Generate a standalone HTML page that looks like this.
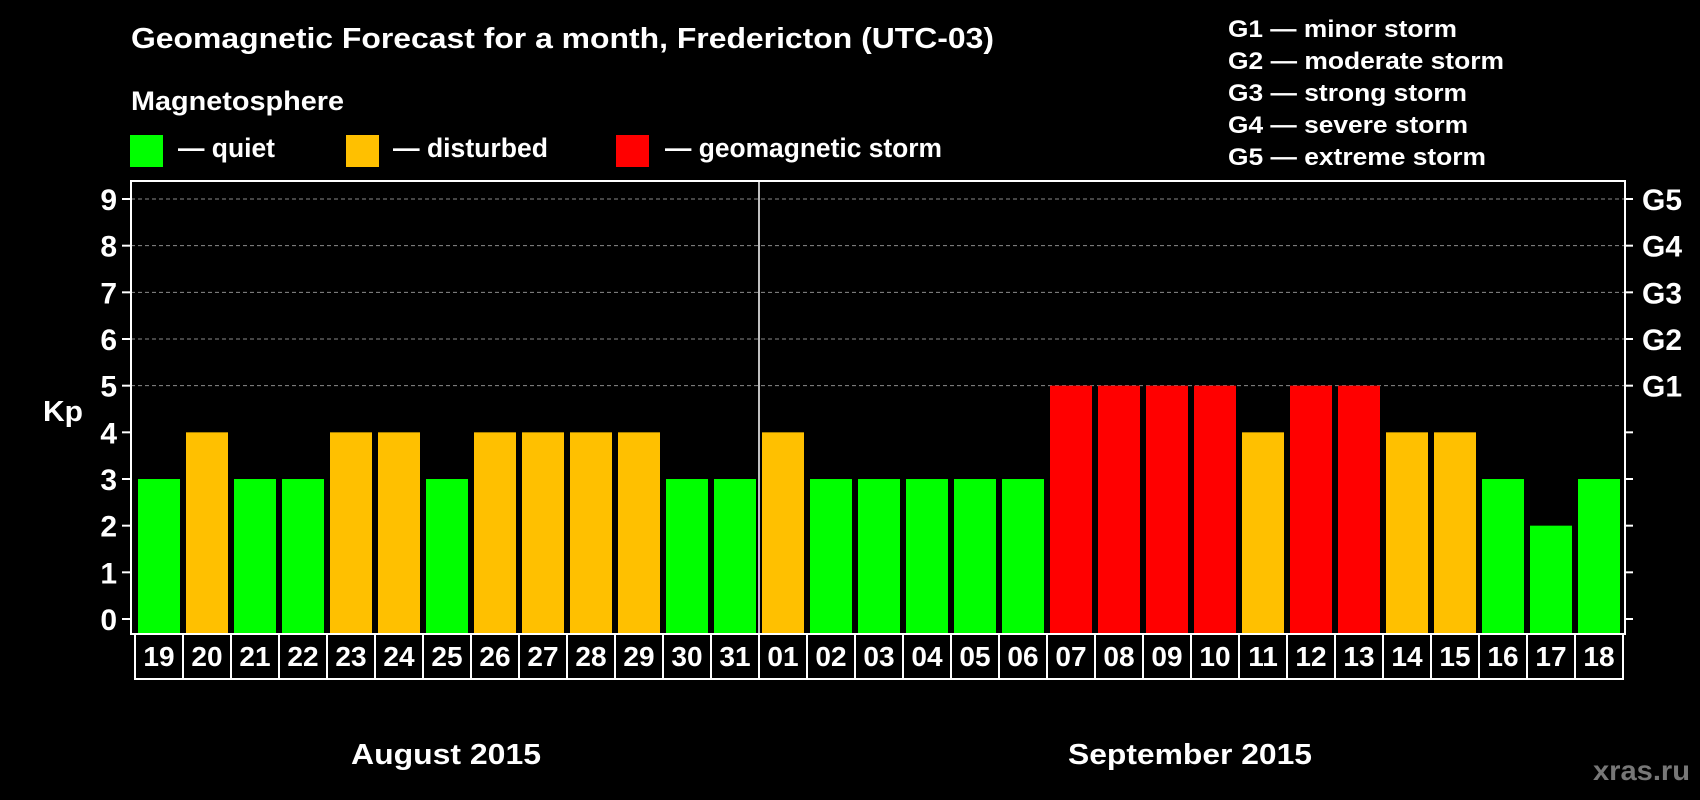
<!DOCTYPE html>
<html><head><meta charset="utf-8"><style>
html,body{margin:0;padding:0;background:#000;}
svg{display:block;font-family:"Liberation Sans",Arial,sans-serif;font-weight:bold;}
</style></head><body>
<svg id="chart" width="1700" height="800" viewBox="0 0 1700 800" xmlns="http://www.w3.org/2000/svg">
<rect width="1700" height="800" fill="#000"/>
<text x="131" y="48" fill="#fff" font-size="29" textLength="863" lengthAdjust="spacingAndGlyphs">Geomagnetic Forecast for a month, Fredericton (UTC-03)</text>
<text x="131" y="110" fill="#fff" font-size="27" textLength="213" lengthAdjust="spacingAndGlyphs">Magnetosphere</text>
<g>
<rect x="130" y="135" width="33" height="32" fill="#00ff00"/>
<text x="178" y="157" fill="#fff" font-size="27" textLength="97" lengthAdjust="spacingAndGlyphs">— quiet</text></g>
<g>
<rect x="346" y="135" width="33" height="32" fill="#ffc000"/>
<text x="393" y="157" fill="#fff" font-size="27" textLength="155" lengthAdjust="spacingAndGlyphs">— disturbed</text></g>
<g>
<rect x="616" y="135" width="33" height="32" fill="#ff0000"/>
<text x="665" y="157" fill="#fff" font-size="27" textLength="277" lengthAdjust="spacingAndGlyphs">— geomagnetic storm</text></g>
<g fill="#fff" font-size="24">
<text x="1228" y="37" textLength="229" lengthAdjust="spacingAndGlyphs">G1 — minor storm</text>
<text x="1228" y="69" textLength="276" lengthAdjust="spacingAndGlyphs">G2 — moderate storm</text>
<text x="1228" y="101" textLength="239" lengthAdjust="spacingAndGlyphs">G3 — strong storm</text>
<text x="1228" y="133" textLength="240" lengthAdjust="spacingAndGlyphs">G4 — severe storm</text>
<text x="1228" y="165" textLength="258" lengthAdjust="spacingAndGlyphs">G5 — extreme storm</text>
</g>
<g id="grid"></g>
<g id="bars"></g>
<g id="axes"></g>
<text x="43" y="421" fill="#fff" font-size="29" textLength="40" lengthAdjust="spacingAndGlyphs">Kp</text>
<text x="351" y="764" fill="#fff" font-size="29" textLength="190" lengthAdjust="spacingAndGlyphs">August 2015</text>
<text x="1068" y="764" fill="#fff" font-size="29" textLength="244" lengthAdjust="spacingAndGlyphs">September 2015</text>
<text x="1593" y="780" fill="#777" font-size="28" textLength="97" lengthAdjust="spacingAndGlyphs">xras.ru</text>
</svg>
<script>
const days = ["19","20","21","22","23","24","25","26","27","28","29","30","31","01","02","03","04","05","06","07","08","09","10","11","12","13","14","15","16","17","18"];
const kpValues = [3,4,3,3,4,4,3,4,4,4,4,3,3,4,3,3,3,3,3,5,5,5,5,4,5,5,4,4,3,2,3];
const yTicks = [0,1,2,3,4,5,6,7,8,9];
const gLabels = ["G1","G2","G3","G4","G5"];
const gLevels = [5,6,7,8,9];

const NS = "http://www.w3.org/2000/svg";
const plotL = 131, plotR = 1625, plotT = 181, plotB = 634;
const slot0 = 135, slotW = (plotR - 2 - slot0) / days.length;
const y0 = 619, y9 = 199;
function yScale(v){ return y0 + (y9 - y0) * v / 9; }
function xSlot(i){ return slot0 + i * slotW; }
function mk(tag, attrs, parent){ const e = document.createElementNS(NS, tag); for (const k in attrs) e.setAttribute(k, attrs[k]); parent.appendChild(e); return e; }
function color(v){ return v >= 5 ? "#ff0000" : (v >= 4 ? "#ffc000" : "#00ff00"); }

const grid = document.getElementById("grid");
gLevels.forEach(v => {
  const l = mk("line", {x1: plotL, x2: plotR, y1: yScale(v), y2: yScale(v), stroke: "#8a8a8a", "stroke-width": 1, "stroke-dasharray": "4,3"}, grid);
  
  
});

const bars = document.getElementById("bars");
kpValues.forEach((v, i) => {
  const r = mk("rect", {x: xSlot(i) + 3, y: yScale(v), width: slotW - 6, height: plotB - 1 - yScale(v), fill: color(v)}, bars);
  
  
});

const axes = document.getElementById("axes");
const frame = mk("rect", {x: plotL, y: plotT, width: plotR - plotL, height: plotB - plotT, fill: "none", stroke: "#fff", "stroke-width": 2}, axes);


const sep = mk("line", {x1: xSlot(13), x2: xSlot(13), y1: plotT, y2: plotB, stroke: "#fff", "stroke-width": 1.5}, axes);



yTicks.forEach(v => {
  const y = yScale(v);
  mk("line", {x1: 122, x2: plotL, y1: y, y2: y, stroke: "#fff", "stroke-width": 2}, axes);
  mk("line", {x1: plotR, x2: plotR + 8, y1: y, y2: y, stroke: "#fff", "stroke-width": 2}, axes);
  const t = mk("text", {x: 117, y: y + 11, fill: "#fff", "font-size": 30, "text-anchor": "end"}, axes);
  t.textContent = v;
  
  
});
gLabels.forEach((g, i) => {
  const t = mk("text", {x: 1642, y: yScale(gLevels[i]) + 11, fill: "#fff", "font-size": 30}, axes);
  t.textContent = g;
  
  
});

const dateBox = mk("rect", {x: slot0, y: plotB, width: slotW * days.length, height: 45, fill: "none", stroke: "#fff", "stroke-width": 2}, axes);


days.forEach((d, i) => {
  if (i > 0) mk("line", {x1: xSlot(i), x2: xSlot(i), y1: plotB, y2: plotB + 45, stroke: "#fff", "stroke-width": 2}, axes);
  const t = mk("text", {x: xSlot(i) + slotW / 2, y: 666, fill: "#fff", "font-size": 28, "text-anchor": "middle"}, axes);
  t.textContent = d;
  
  
});
</script>
</body></html>
